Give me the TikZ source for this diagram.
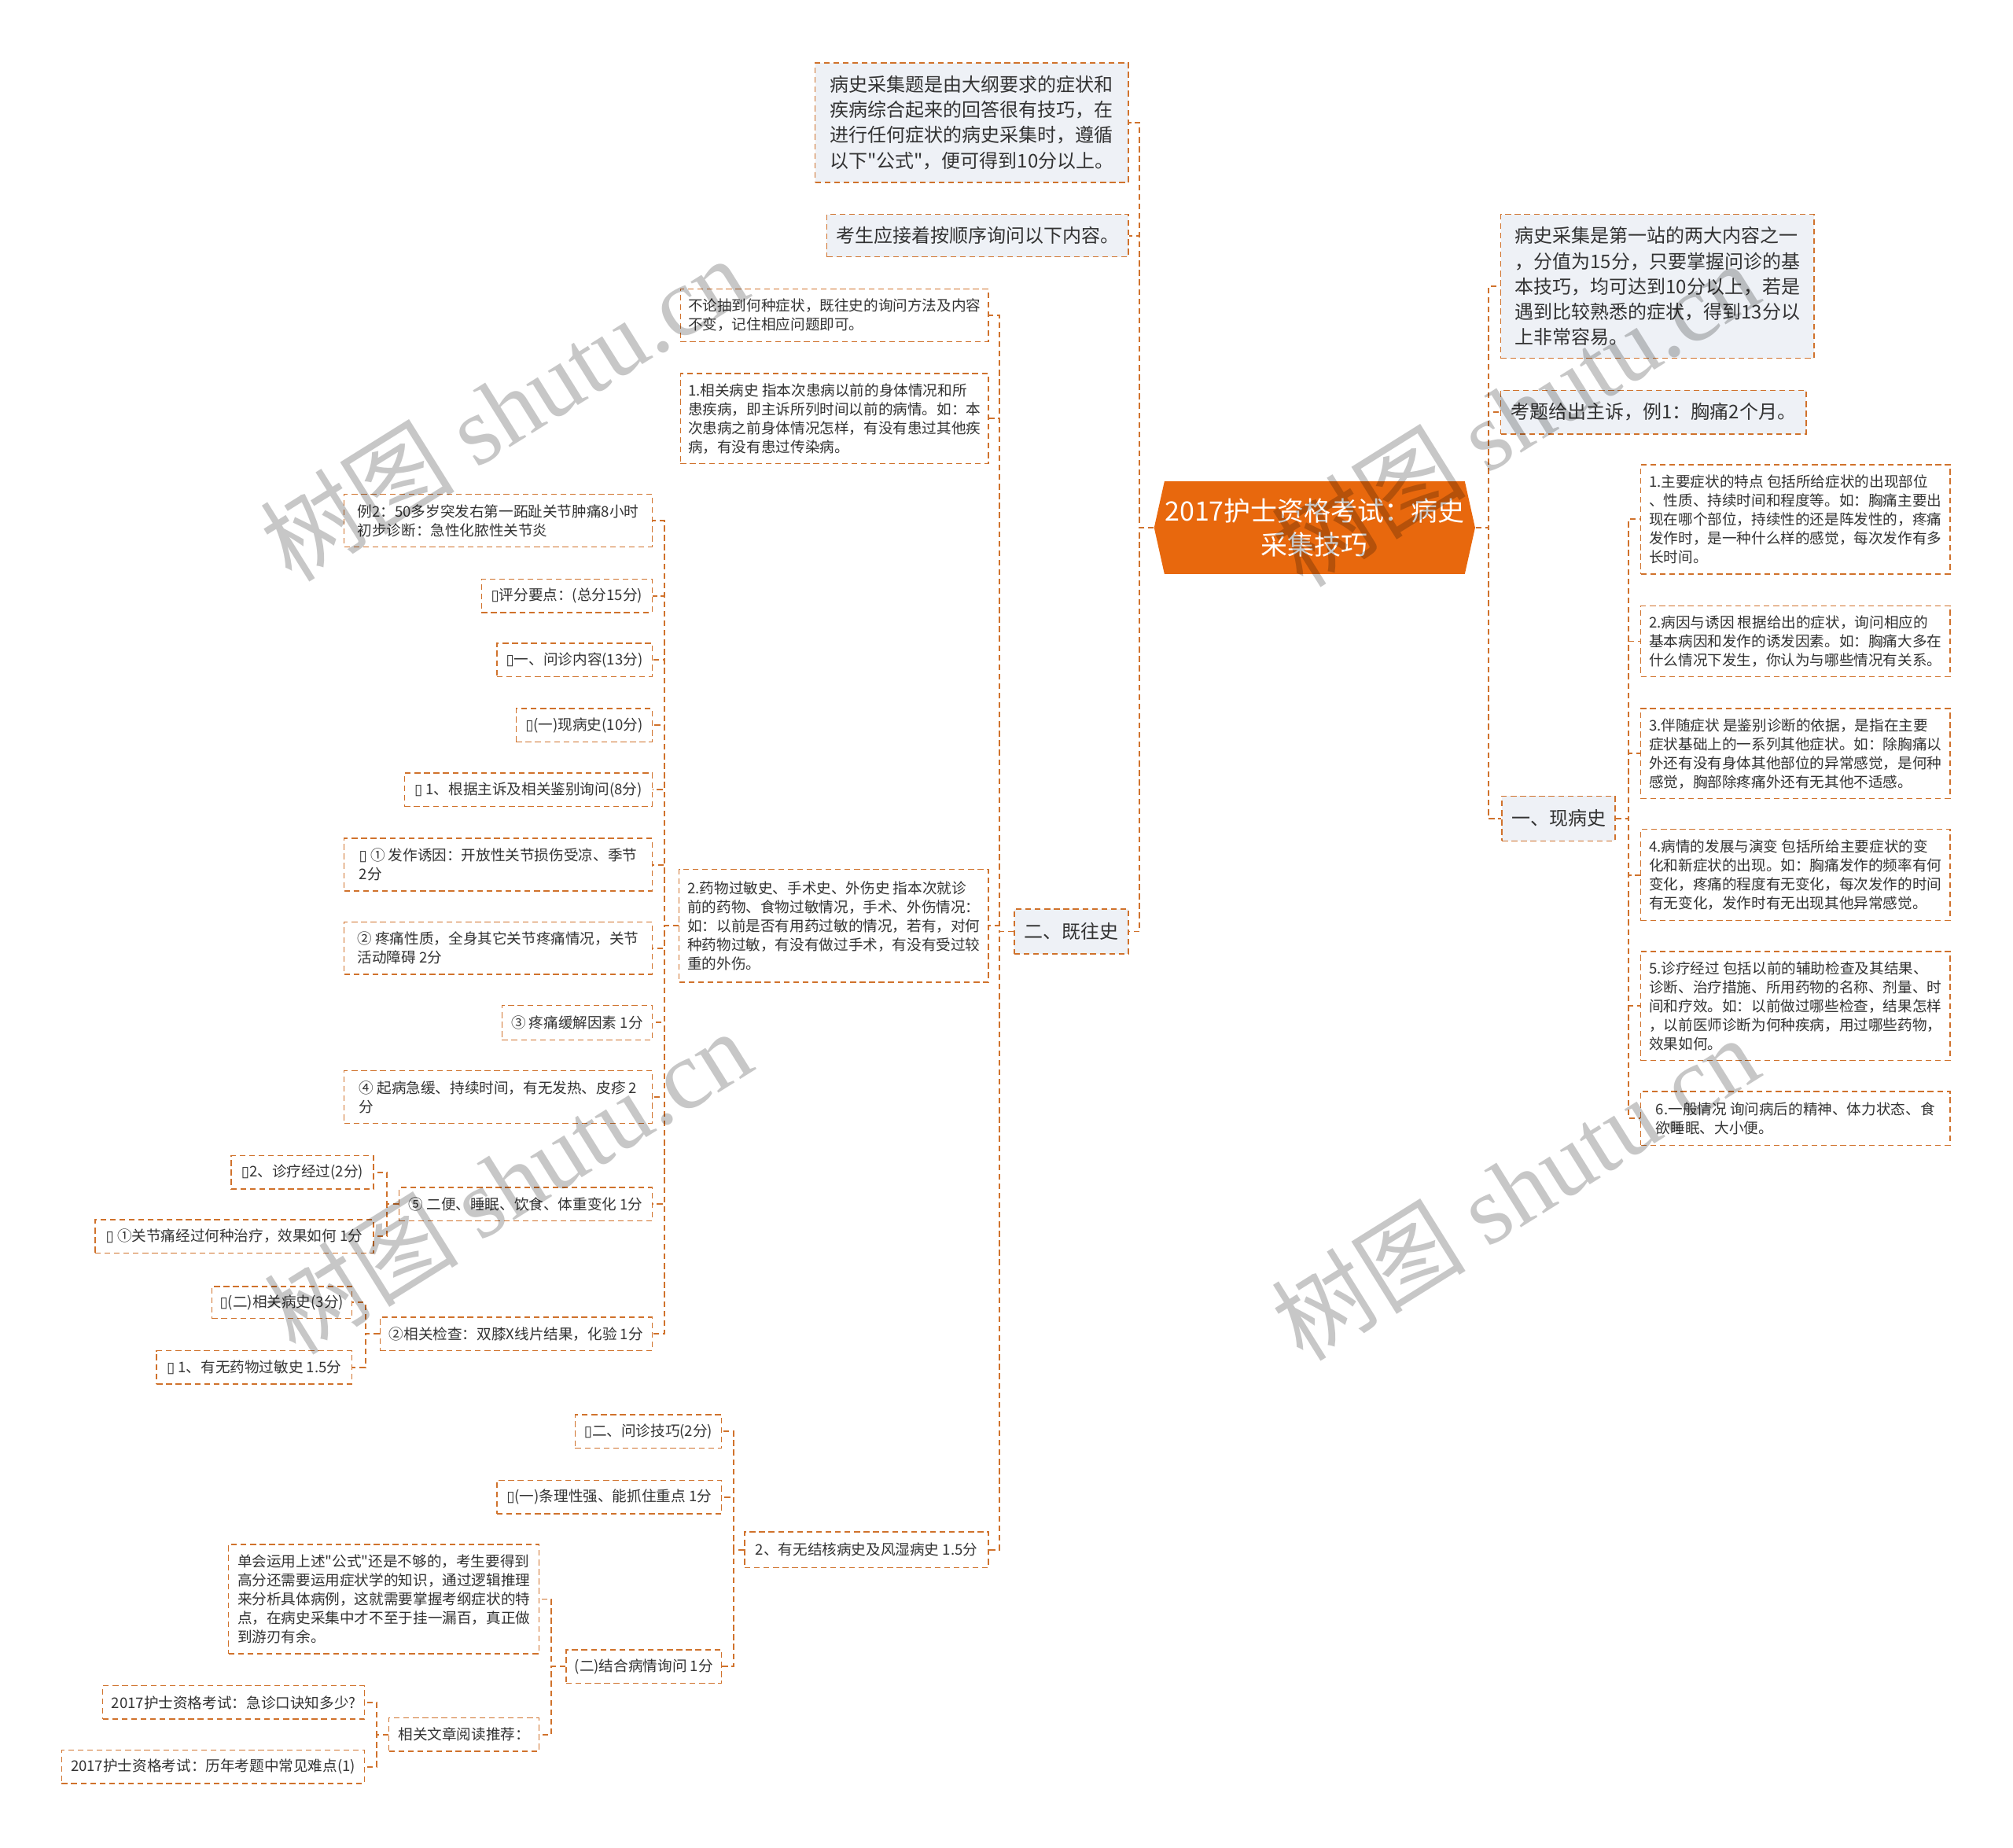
\documentclass[tikz,border=0pt]{standalone}
\usepackage{fontspec}
\setmainfont{Noto Sans CJK SC}
\newfontfamily\wmlatin{Liberation Serif}
\newfontfamily\symfnt{DejaVu Sans}
\usetikzlibrary{calc}
\definecolor{lineor}{HTML}{D0722C}
\definecolor{rootor}{HTML}{E8680D}
\definecolor{lightfill}{HTML}{EEF1F6}
\definecolor{txt}{HTML}{333333}
\newcommand\bxs{{\symfnt ▯}}
\newcommand\sq{\XeTeXglyph\XeTeXcharglyph"22\relax}
\tikzset{
 basebox/.style={draw=lineor, line width=0.45pt, dash pattern=on 2.25pt off 1.45pt, text=txt, align=left, inner sep=0pt},
 smallbox/.style={basebox, font=\fontsize{5.7pt}{7.35pt}\selectfont},
 medbox/.style={basebox, fill=lightfill, font=\fontsize{7.35pt}{9.85pt}\selectfont},
 conn/.style={draw=lineor, line width=0.6pt, dash pattern=on 2.25pt off 1.45pt},
 wm/.style={text=black, text opacity=0.22, rotate=32, font=\fontsize{38pt}{38pt}\selectfont, inner sep=0pt},
}
\newcommand\mmnode[7]{%
 \pgfmathsetmacro\mmw{(#5-#3)*0.5}%
 \pgfmathsetmacro\mmh{(#6-#4)*0.5}%
 \node[#2, minimum width=\mmw pt, minimum height=\mmh pt] (#1) at ({(#3+#5)/2},{(#4+#6)/2}) {#7};}
\begin{document}
\begin{tikzpicture}[x=0.5pt,y=-0.5pt]
\path[use as bounding box, fill=white] (0,0) rectangle (1568,1439);
% root
\fill[rootor] (907,375) -- (1141,375) -- (1149,411) -- (1141,447) -- (907,447) -- (899,411) -- cycle;
\node[font=\fontsize{10.4pt}{13pt}\selectfont, text=white, align=center, minimum width=125pt, minimum height=36pt, inner sep=0pt] (root) at (1024,411) {2017护士资格考试：病史\\采集技巧};
% level 1
\mmnode{A1}{medbox}{635}{49}{879}{142}{病史采集题是由大纲要求的症状和\\疾病综合起来的回答很有技巧，在\\进行任何症状的病史采集时，遵循\\以下\sq 公式\sq ，便可得到10分以上。}
\mmnode{A2}{medbox}{644}{167}{879}{200}{考生应接着按顺序询问以下内容。}
\mmnode{A3}{medbox}{790}{708}{879}{743}{二、既往史}
\mmnode{R1}{medbox}{1169}{167}{1413}{279}{病史采集是第一站的两大内容之一\\，分值为15分，只要掌握问诊的基\\本技巧，均可达到10分以上，若是\\遇到比较熟悉的症状，得到13分以\\上非常容易。}
\mmnode{R2}{medbox}{1169}{304}{1407}{338}{考题给出主诉，例1：胸痛2个月。}
\mmnode{R3}{medbox}{1170}{620}{1258}{655}{一、现病史}
% right children
\mmnode{S1}{smallbox}{1278}{362}{1519}{447}{1.主要症状的特点 包括所给症状的出现部位\\、性质、持续时间和程度等。如：胸痛主要出\\现在哪个部位，持续性的还是阵发性的，疼痛\\发作时，是一种什么样的感觉，每次发作有多\\长时间。}
\mmnode{S2}{smallbox}{1278}{472}{1519}{527}{2.病因与诱因 根据给出的症状，询问相应的\\基本病因和发作的诱发因素。如：胸痛大多在\\什么情况下发生，你认为与哪些情况有关系。}
\mmnode{S3}{smallbox}{1278}{552}{1519}{622}{3.伴随症状 是鉴别诊断的依据，是指在主要\\症状基础上的一系列其他症状。如：除胸痛以\\外还有没有身体其他部位的异常感觉，是何种\\感觉，胸部除疼痛外还有无其他不适感。}
\mmnode{S4}{smallbox}{1278}{646}{1519}{717}{4.病情的发展与演变 包括所给主要症状的变\\化和新症状的出现。如：胸痛发作的频率有何\\变化，疼痛的程度有无变化，每次发作的时间\\有无变化，发作时有无出现其他异常感觉。}
\mmnode{S5}{smallbox}{1278}{741}{1519}{826}{5.诊疗经过 包括以前的辅助检查及其结果、\\诊断、治疗措施、所用药物的名称、剂量、时\\间和疗效。如：以前做过哪些检查，结果怎样\\，以前医师诊断为何种疾病，用过哪些药物，\\效果如何。}
\mmnode{S6}{smallbox}{1278}{850}{1519}{892}{6.一般情况 询问病后的精神、体力状态、食\\欲睡眠、大小便。}
% B level
\mmnode{B1}{smallbox}{530}{225}{770}{266}{不论抽到何种症状，既往史的询问方法及内容\\不变，记住相应问题即可。}
\mmnode{B2}{smallbox}{530}{291}{770}{361}{1.相关病史 指本次患病以前的身体情况和所\\患疾病，即主诉所列时间以前的病情。如：本\\次患病之前身体情况怎样，有没有患过其他疾\\病，有没有患过传染病。}
\mmnode{B3}{smallbox}{529}{677}{770}{765}{2.药物过敏史、手术史、外伤史 指本次就诊\\前的药物、食物过敏情况，手术、外伤情况：\\如：以前是否有用药过敏的情况，若有，对何\\种药物过敏，有没有做过手术，有没有受过较\\重的外伤。}
\mmnode{B4}{smallbox}{580}{1193}{770}{1221}{2、有无结核病史及风湿病史 1.5分}
% C level
\mmnode{C1}{smallbox}{268}{385}{508}{426}{例2：50多岁突发右第一跖趾关节肿痛8小时\\初步诊断：急性化脓性关节炎}
\mmnode{C2}{smallbox}{375}{451}{508}{477}{\bxs 评分要点：(总分15分)}
\mmnode{C3}{smallbox}{387}{501}{508}{527}{\bxs 一、问诊内容(13分)}
\mmnode{C4}{smallbox}{402}{552}{508}{578}{\bxs(一)现病史(10分)}
\mmnode{C5}{smallbox}{315}{602}{508}{628}{\bxs\ 1、根据主诉及相关鉴别询问(8分)}
\mmnode{C6}{smallbox}{268}{653}{508}{694}{\bxs\ ① 发作诱因：开放性关节损伤受凉、季节\\2分}
\mmnode{C7}{smallbox}{268}{718}{508}{759}{② 疼痛性质，全身其它关节疼痛情况，关节\\活动障碍 2分}
\mmnode{C8}{smallbox}{391}{783}{508}{810}{③ 疼痛缓解因素 1分}
\mmnode{C9}{smallbox}{268}{834}{508}{875}{④ 起病急缓、持续时间，有无发热、皮疹 2\\分}
\mmnode{C10}{smallbox}{311}{925}{508}{951}{⑤ 二便、睡眠、饮食、体重变化 1分}
\mmnode{C11}{smallbox}{296}{1026}{508}{1052}{②相关检查：双膝X线片结果，化验 1分}
% D level
\mmnode{D1}{smallbox}{180}{900}{291}{926}{\bxs 2、诊疗经过(2分)}
\mmnode{D2}{smallbox}{74}{950}{291}{976}{\bxs\ ①关节痛经过何种治疗，效果如何 1分}
\mmnode{D3}{smallbox}{165}{1002}{274}{1027}{\bxs(二)相关病史(3分)}
\mmnode{D4}{smallbox}{122}{1052}{274}{1078}{\bxs\ 1、有无药物过敏史 1.5分}
% E level
\mmnode{E1}{smallbox}{448}{1102}{562}{1128}{\bxs 二、问诊技巧(2分)}
\mmnode{E2}{smallbox}{387}{1153}{562}{1179}{\bxs(一)条理性强、能抓住重点 1分}
\mmnode{E3}{smallbox}{441}{1285}{562}{1311}{(二)结合病情询问 1分}
% F level
\mmnode{F1}{smallbox}{178}{1203}{420}{1288}{单会运用上述\sq 公式\sq 还是不够的，考生要得到\\高分还需要运用症状学的知识，通过逻辑推理\\来分析具体病例，这就需要掌握考纲症状的特\\点，在病史采集中才不至于挂一漏百，真正做\\到游刃有余。}
\mmnode{F2}{smallbox}{303}{1338}{420}{1364}{相关文章阅读推荐：}
% G level
\mmnode{G1}{smallbox}{80}{1313}{284}{1339}{2017护士资格考试：急诊口诀知多少?}
\mmnode{G2}{smallbox}{48}{1363}{284}{1389}{2017护士资格考试：历年考题中常见难点(1)}
% connectors
\foreach \c in {A1,A2,A3} \draw[conn] (root.west) -- ++(-11,0) |- (\c.east);
\foreach \c in {R1,R2,R3} \draw[conn] (root.east) -- ++(10,0) |- (\c.west);
\foreach \c in {S1,S2,S3,S4,S5,S6} \draw[conn] (R3.east) -- ++(10,0) |- (\c.west);
\foreach \c in {B1,B2,B3,B4} \draw[conn] (A3.west) -- ++(-11,0) |- (\c.east);
\foreach \c in {C1,C2,C3,C4,C5,C6,C7,C8,C9,C10,C11} \draw[conn] (B3.west) -- ++(-11,0) |- (\c.east);
\foreach \c in {D1,D2} \draw[conn] (C10.west) -- ++(-9,0) |- (\c.east);
\foreach \c in {D3,D4} \draw[conn] (C11.west) -- ++(-11,0) |- (\c.east);
\foreach \c in {E1,E2,E3} \draw[conn] (B4.west) -- ++(-8,0) |- (\c.east);
\foreach \c in {F1,F2} \draw[conn] (E3.west) -- ++(-11,0) |- (\c.east);
\foreach \c in {G1,G2} \draw[conn] (F2.west) -- ++(-9,0) |- (\c.east);
% watermarks
\begin{scope}
\clip (0,0) rectangle (1568,1439);
\node[wm] (wm1) at (392,318) {树图 {\wmlatin shutu.cn}};
\node[wm] (wm2) at (1180,322) {树图 {\wmlatin shutu.cn}};
\node[wm] (wm3) at (395,920) {树图 {\wmlatin shutu.cn}};
\node[wm] (wm4) at (1180,925) {树图 {\wmlatin shutu.cn}};
\node[wm] (wm5) at (392,1552) {树图 {\wmlatin shutu.cn}};
\node[wm] (wm6) at (1180,1552) {树图 {\wmlatin shutu.cn}};
\end{scope}
\end{tikzpicture}
\end{document}
